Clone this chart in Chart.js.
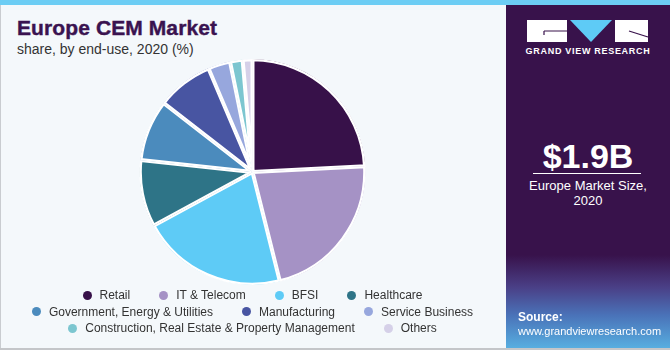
<!DOCTYPE html>
<html>
<head>
<meta charset="utf-8">
<script src="https://cdn.jsdelivr.net/npm/chart.js@4/dist/chart.umd.min.js"></script>
<style>
  html, body { margin: 0; padding: 0; }
  body { width: 670px; height: 350px; overflow: hidden; position: relative; background: #f4f8fb; font-family: "Liberation Sans", Arial, sans-serif; }
  #topbar { position: absolute; left: 0; top: 0; width: 670px; height: 5px; background: #6ccdf4; }
  #leftline { position: absolute; left: 0; top: 5px; width: 1px; height: 345px; background: #c9ccd0; }
  #bottombar { position: absolute; left: 0; top: 348px; width: 670px; height: 2px; background: #c4c6c9; }
  #title { position: absolute; left: 17px; top: 16px; font-size: 21px; font-weight: bold; color: #3a1350; letter-spacing: 0.1px; -webkit-text-stroke: 0.4px #3a1350; }
  #subtitle { position: absolute; left: 17px; top: 41px; font-size: 14px; color: #333; }
  #chartbox { position: absolute; left: 0; top: 52px; width: 505px; height: 240px; }
  #legend { position: absolute; left: 27px; top: 287px; width: 451px; display: flex; flex-wrap: wrap; justify-content: center; column-gap: 29px; font-size: 12px; line-height: 16.5px; color: #333; }
  .item { display: flex; align-items: center; white-space: nowrap; }
  .dot { width: 9px; height: 9px; border-radius: 50%; margin-right: 8px; }
  #side { position: absolute; left: 506px; top: 5px; width: 164px; height: 343px;
    background: linear-gradient(to bottom, #38124b 0px, #38124b 250px, #4a3f86 282px, #4a72b8 310px, #57aee0 343px); }
  #brand { position: absolute; left: 0; width: 164px; top: 41px; text-align: center; color: #fff; font-size: 9px; font-weight: bold; letter-spacing: 0.7px; }
  #big { position: absolute; left: 0; width: 164px; top: 132px; text-align: center; color: #fff; font-size: 34px; font-weight: bold; }
  #rule { position: absolute; left: 27px; top: 168px; width: 108px; height: 1px; background: #fff; }
  #desc { position: absolute; left: 0; width: 164px; top: 173px; text-align: center; color: #fff; font-size: 13px; line-height: 15px; }
  #src { position: absolute; left: 12px; top: 305px; color: #fff; font-size: 11px; line-height: 14px; }
  #src b { font-size: 12px; }
</style>
</head>
<body>
<div id="topbar"></div>
<div id="leftline"></div>
<div id="title">Europe CEM Market</div>
<div id="subtitle">share, by end-use, 2020 (%)</div>
<div id="chartbox"><canvas id="cem" width="505" height="240"></canvas></div>
<div id="legend"></div>
<div id="side">
  <svg width="164" height="40" style="position:absolute;left:0;top:0">
    <rect x="21" y="15" width="40" height="22" fill="#fff"/>
    <path d="M38 26 H61 M38 26 V30" stroke="#38124b" stroke-width="1.2" fill="none"/>
    <polygon points="64,15 106,15 85,37" fill="#5ecbf6"/>
    <rect x="109" y="15" width="33" height="22" fill="#fff"/>
    <path d="M123 26 L142 32" stroke="#38124b" stroke-width="1.2" fill="none"/>
  </svg>
  <div id="brand">GRAND VIEW RESEARCH</div>
  <div id="big">$1.9B</div>
  <div id="rule"></div>
  <div id="desc">Europe Market Size,<br>2020</div>
  <div id="src"><b>Source:</b><br>www.grandviewresearch.com</div>
</div>
<div id="bottombar"></div>
<script>
"use strict";

// end-use segments and their share of the 2020 market (%)
const segments = ['Retail', 'IT & Telecom', 'BFSI', 'Healthcare', 'Government, Energy & Utilities',
  'Manufacturing', 'Service Business', 'Construction, Real Estate & Property Management', 'Others'];
const shares = [24.2, 21.9, 21.0, 9.6, 8.8, 8.1, 3.2, 1.8, 1.4];
const colors = ['#371149', '#a592c5', '#5ecbf6', '#2e7487', '#4b8bbd', '#4855a2', '#97a7dd', '#7cc6d0', '#d5d0e8'];

// legend built from the same arrays
let legend = document.getElementById('legend');
segments.forEach(function(name, i) {
  let item = document.createElement('div');
  item.className = 'item';
  let dot = document.createElement('span');
  dot.className = 'dot';
  dot.style.background = colors[i];
  item.appendChild(dot);
  item.appendChild(document.createTextNode(name));
  legend.appendChild(item);
});

new Chart(document.getElementById('cem'), {
  type: 'pie',
  data: {
    labels: segments,
    datasets: [
      {
        data: shares,
        backgroundColor: colors,
        borderColor: '#ffffff',
        borderWidth: 2,
        borderAlign: 'inner'
      }
    ]
  },
  options: {
    responsive: false,
    animation: false,
    radius: 113,
    layout: { padding: 0 },
    plugins: {
      legend: { display: false },
      tooltip: { enabled: false }
    }
  }
});
</script>
</body>
</html>
